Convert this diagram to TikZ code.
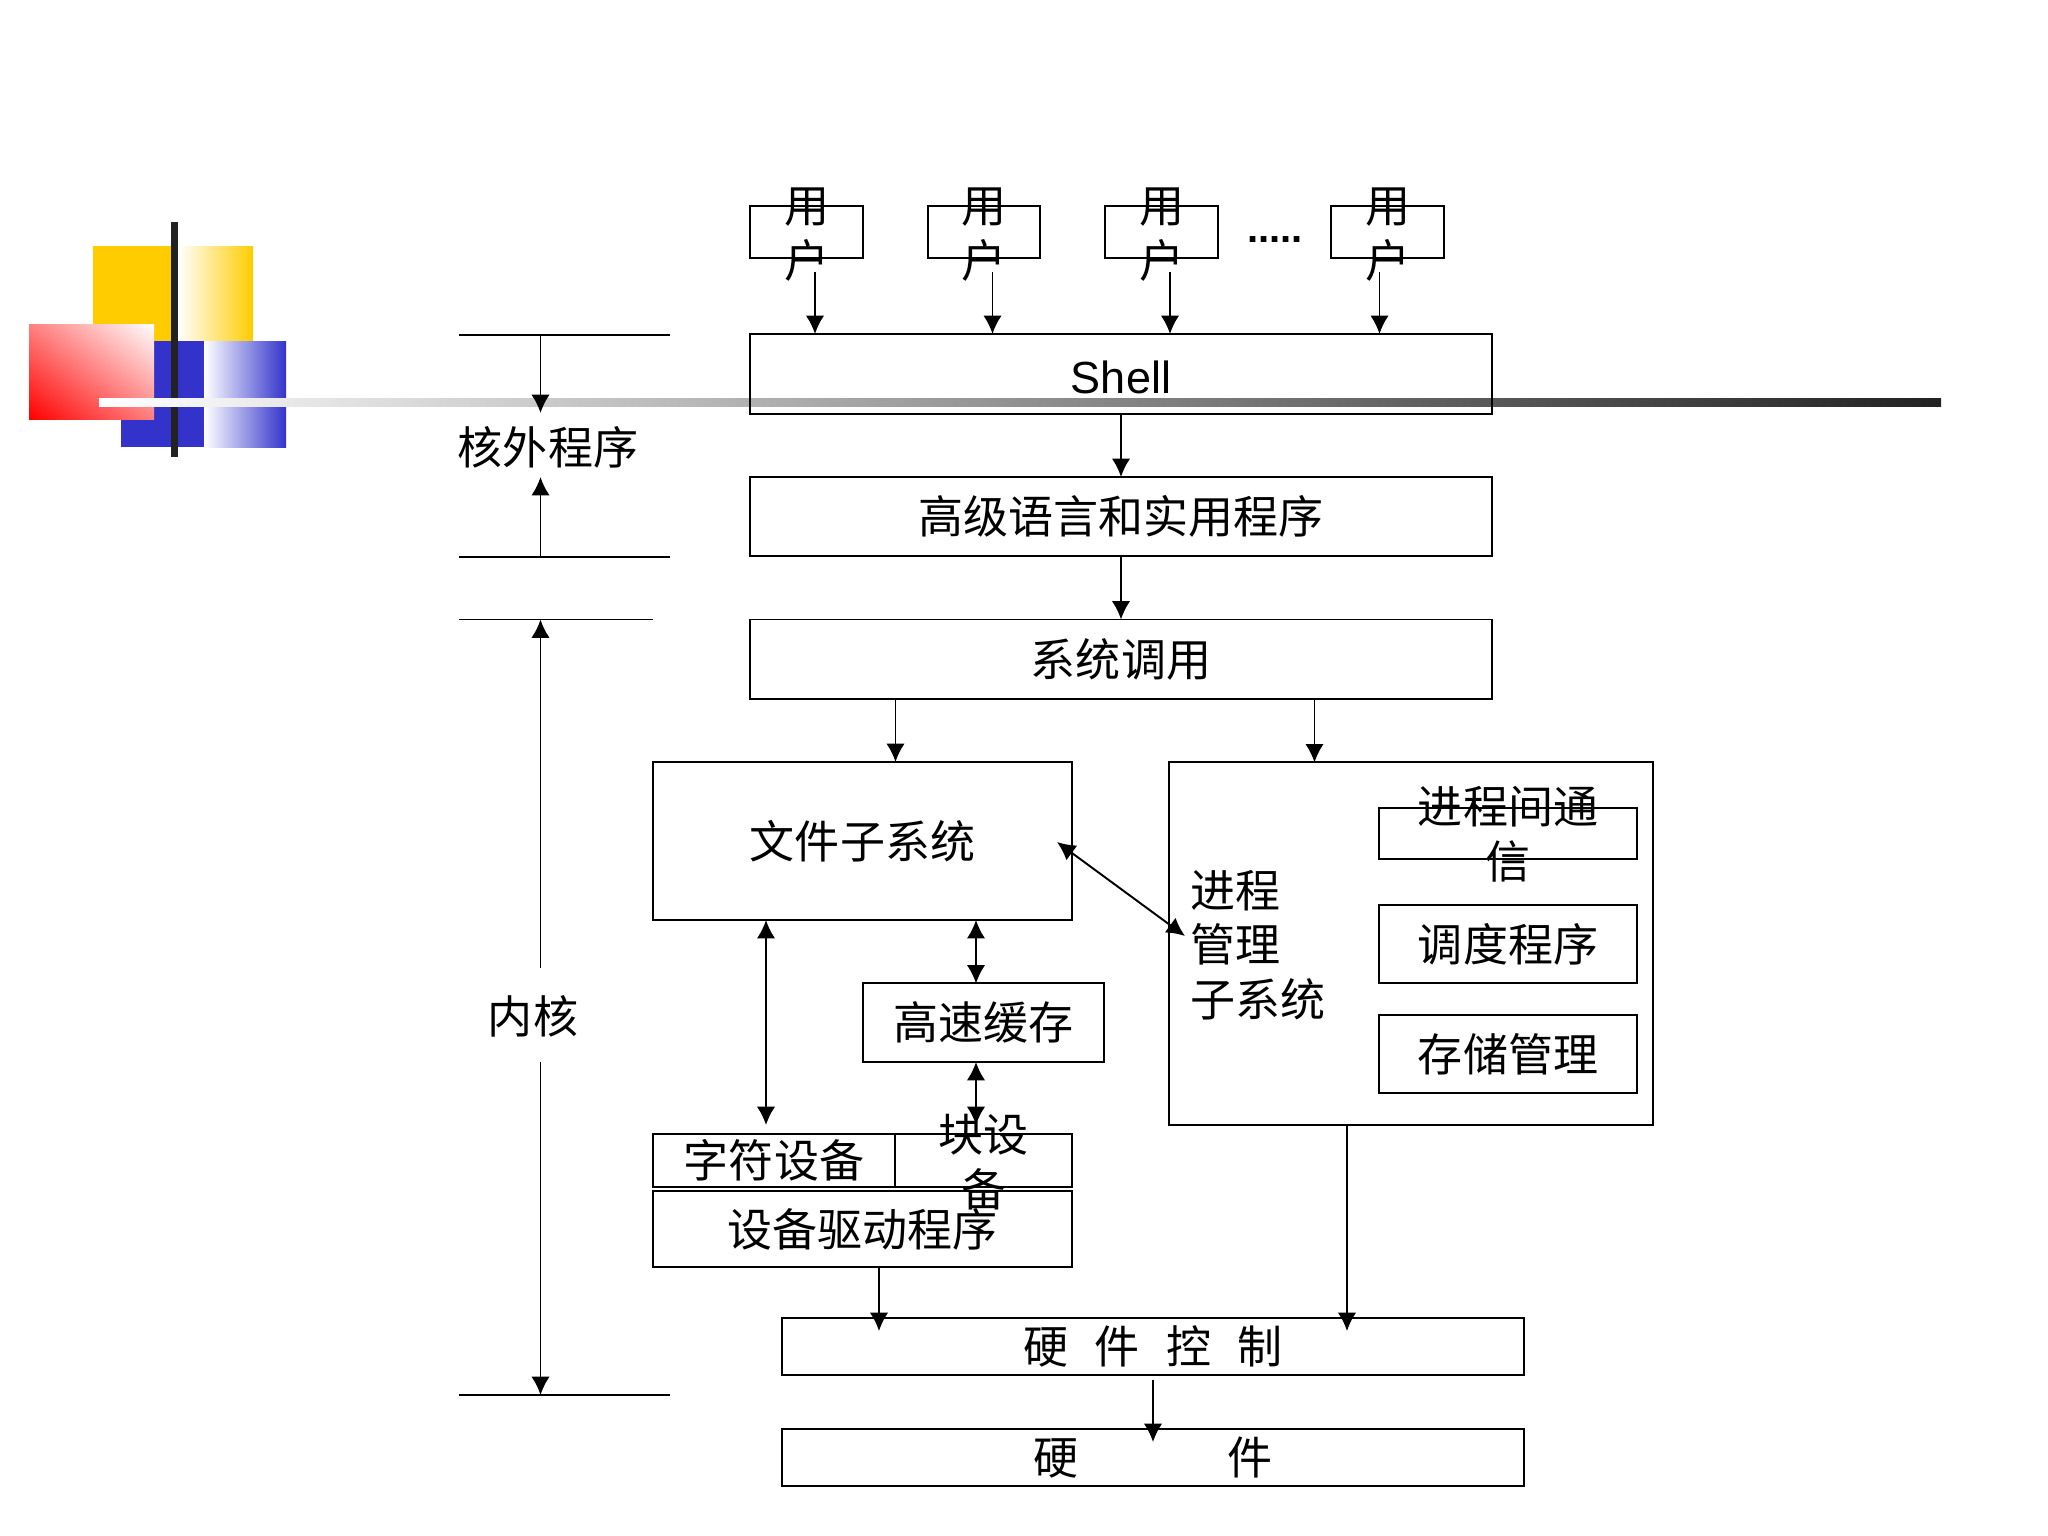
\documentclass[tikz,border=0pt]{standalone}
\usepackage{fontspec}
\setmainfont{Noto Sans CJK SC}
\newfontfamily\latinfont{Liberation Sans}
\usetikzlibrary{arrows.meta, shadings}
\definecolor{logoyellow}{HTML}{FFCC00}
\definecolor{logoblue}{HTML}{3333CC}
\definecolor{bardark}{HTML}{222222}
\tikzset{
    box/.style={draw=black, line width=.55pt, inner sep=0pt, outer sep=0pt},
    txt/.style={inner sep=0pt, outer sep=0pt, align=center, font=\fontsize{12.8pt}{15.5pt}\selectfont},
    flow/.style={line width=.55pt, -{Latex[length=5.2pt, width=5.2pt]}},
    dflow/.style={line width=.55pt, {Latex[length=5.2pt, width=5.2pt]}-{Latex[length=5.2pt, width=5.2pt]}},
    rule/.style={line width=.55pt}
}
\begin{document}
\begin{tikzpicture}[x=.01cm, y=-.01cm]
    \useasboundingbox (0, 0) rectangle (2048, 1536);

    \path[fill=logoyellow] (93, 246) rectangle (178, 341);
    \path[left color=white, right color=logoyellow] (178, 246) rectangle (253, 341);
    \path[fill=logoblue] (121, 341) rectangle (204, 447);
    \path[left color=white, right color=logoblue] (204, 341) rectangle (286, 447);
    \path[lower left=red, upper right=white, upper left=red!50, lower right=red!50] (29, 324) rectangle (154, 419);
    \path[fill=bardark] (170.5, 222) rectangle (178, 457);
    \path[left color=white, right color=bardark] (99, 398.5) rectangle (1941, 406.5);

    \foreach \n/\x in {1/806.5, 2/984, 3/1161.5, 4/1387.5} {
        \node[box, minimum width=1.125cm, minimum height=.52cm] (user\n) at (\x, 232) {};
        \node[txt] (usertext\n) at (\x, 234.5) {用\\户};
    }
    \node[txt, font=\latinfont\fontsize{11.4pt}{15.5pt}\selectfont\bfseries] (dots) at (1275, 240) {.....};

    \node[box, minimum width=7.41cm, minimum height=.8cm] (shell) at (1121, 374) {};
    \node[txt, font=\latinfont\fontsize{12.8pt}{15.5pt}\selectfont] (shelltext) at (1121, 377) {Shell};
    \node[box, txt, minimum width=7.41cm, minimum height=.79cm] (lang) at (1121, 516.5) {高级语言和实用程序};
    \node[box, txt, minimum width=7.41cm, minimum height=.79cm] (syscall) at (1121, 659) {系统调用};

    \node[box, txt, minimum width=4.19cm, minimum height=1.58cm] (filesys) at (862.5, 841) {文件子系统};
    \node[box, minimum width=4.84cm, minimum height=3.62cm] (procsys) at (1411, 943.5) {};
    \node[txt, align=left, anchor=west] (proctext) at (1190.5, 945) {进程\\管理\\子系统};
    \node[box, minimum width=2.58cm, minimum height=.51cm] (ipc) at (1508, 833.5) {};
    \node[txt] (ipctext) at (1508, 834) {进程间通\\信};
    \node[box, txt, minimum width=2.58cm, minimum height=.785cm] (sched) at (1508, 944) {调度程序};
    \node[box, txt, minimum width=2.58cm, minimum height=.785cm] (mem) at (1508, 1054) {存储管理};

    \node[box, txt, minimum width=2.405cm, minimum height=.785cm] (cache) at (983.5, 1022.7) {高速缓存};
    \node[box, txt, minimum width=2.42cm, minimum height=.535cm] (chardev) at (774, 1160.5) {字符设备};
    \node[box, minimum width=1.77cm, minimum height=.535cm] (blockdev) at (983.5, 1160.5) {};
    \node[txt] (blocktext) at (983.5, 1162) {块设\\备};
    \node[box, txt, minimum width=4.19cm, minimum height=.76cm] (driver) at (862.5, 1229) {设备驱动程序};

    \node[box, txt, minimum width=7.41cm, minimum height=.57cm] (hwctrl) at (1153, 1346.5) {硬\hspace{.58em}件\hspace{.58em}控\hspace{.58em}制};
    \node[box, txt, minimum width=7.41cm, minimum height=.57cm] (hw) at (1153, 1457.5) {硬\hspace{3.3em}件};

    \node[txt] (outer) at (548, 447) {核外程序};
    \node[txt] (kernel) at (533, 1016) {内核};

    \foreach \n/\x in {1/815, 2/992.5, 3/1170, 4/1379.5} {
        \coordinate (userfrom\n) at (\x, 272);
        \draw[flow] (userfrom\n) -- (userfrom\n |- shell.north);
    }
    \draw[flow] (shell.south) -- (lang.north);
    \draw[flow] (lang.south) -- (syscall.north);

    \coordinate (fileguide) at (895.5, 730);
    \coordinate (procguide) at (1314.5, 730);
    \draw[flow] (fileguide |- syscall.south) -- (fileguide |- filesys.north);
    \draw[flow] (procguide |- syscall.south) -- (procguide |- procsys.north);

    \coordinate (fileport) at (1057, 842);
    \coordinate (procport) at (1185, 936);
    \draw[dflow] (fileport) -- (procport);

    \coordinate (charguide) at (766, 1125);
    \coordinate (cacheguide) at (976, 1125);
    \draw[dflow] (charguide |- filesys.south) -- (charguide);
    \draw[dflow] (cacheguide |- filesys.south) -- (cacheguide |- cache.north);
    \draw[dflow] (cacheguide |- cache.south) -- (cacheguide);

    \coordinate (drvend) at (879, 1331);
    \coordinate (procend) at (1347, 1331);
    \coordinate (hwfrom) at (1153, 1380);
    \coordinate (hwend) at (1153, 1442);
    \draw[flow] (drvend |- driver.south) -- (drvend);
    \draw[flow] (procend |- procsys.south) -- (procend);
    \draw[flow] (hwfrom) -- (hwend);

    \coordinate (outertopl) at (459, 335);
    \coordinate (outertopr) at (670, 335);
    \coordinate (outerbotl) at (459, 557);
    \coordinate (outerbotr) at (670, 557);
    \coordinate (kerneltopl) at (459, 619.5);
    \coordinate (kerneltopr) at (653, 619.5);
    \coordinate (kernelbotl) at (459, 1395);
    \coordinate (kernelbotr) at (670, 1395);
    \draw[rule] (outertopl) -- (outertopr);
    \draw[rule] (outerbotl) -- (outerbotr);
    \draw[rule] (kerneltopl) -- (kerneltopr);
    \draw[rule] (kernelbotl) -- (kernelbotr);

    \coordinate (spine) at (540.5, 800);
    \coordinate (outerdown) at (540.5, 413);
    \coordinate (outerup) at (540.5, 477);
    \coordinate (kernelup) at (540.5, 968);
    \coordinate (kerneldown) at (540.5, 1062);
    \draw[flow] (spine |- outertopr) -- (outerdown);
    \draw[flow] (spine |- outerbotr) -- (outerup);
    \draw[flow] (kernelup) -- (spine |- kerneltopr);
    \draw[flow] (kerneldown) -- (spine |- kernelbotr);
\end{tikzpicture}
\end{document}
